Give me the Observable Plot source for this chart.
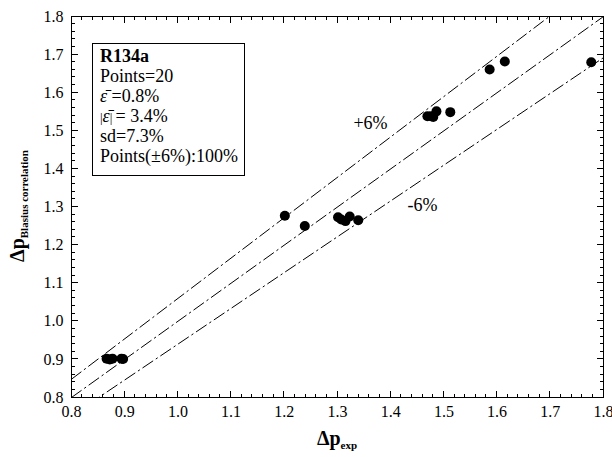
<!DOCTYPE html>
<html><head><meta charset="utf-8">
<script src="https://cdn.jsdelivr.net/npm/d3@7"></script>
<script src="https://cdn.jsdelivr.net/npm/@observablehq/plot@0.6"></script>
<style>body{margin:0;background:#fff} svg{display:block}</style>
</head><body><div id="chart"></div>
<script>
// measured pressure drop vs Blasius correlation (R134a)
const dpExp      = [0.866, 0.872, 0.877, 0.894, 0.897, 1.201, 1.2385, 1.301, 1.307, 1.315, 1.323, 1.339, 1.469, 1.476, 1.480, 1.486, 1.512, 1.586, 1.6145, 1.777];
const dpBlasius  = [0.902, 0.900, 0.902, 0.902, 0.901, 1.277, 1.250, 1.273, 1.267, 1.263, 1.275, 1.265, 1.538, 1.538, 1.536, 1.551, 1.549, 1.661, 1.682, 1.680];
const majorTicks = [0.8, 0.9, 1.0, 1.1, 1.2, 1.3, 1.4, 1.5, 1.6, 1.7, 1.8];
const minorTicks = d3.range(0, 51).map(i => +(0.8 + i * 0.02).toFixed(2));
const bandFactors = [1.06, 1.0, 0.94];
const bandLabels = ["+6%", "-6%"];
const bandLabelX = [1.362, 1.46];
const bandLabelY = [1.519, 1.304];
const legendLines = ["R134a", "Points=20", "=0.8%", "= 3.4%", "sd=7.3%", "Points(\u00b16%):100%"];

const FONT = "'Liberation Serif', 'Times New Roman', Times, serif";
const domain = [0.8, 1.8];
const W = 612, H = 457, ML = 71, MR = 9, MT = 16, MB = 60;

const lineData = bandFactors.flatMap((f, i) => domain.map(x => ({x, y: x * f, k: i})));
const points = dpExp.map((x, i) => ({x, y: dpBlasius[i]}));
const labels = bandLabels.map((t, i) => ({t, x: bandLabelX[i], y: bandLabelY[i]}));

const plot = Plot.plot({
  width: W, height: H,
  marginLeft: ML, marginRight: MR, marginTop: MT, marginBottom: MB,
  style: {fontFamily: FONT, fontSize: "16px", color: "#000", background: "#fff"},
  x: {domain, label: null},
  y: {domain, label: null},
  marks: [
    Plot.line(lineData, {x: "x", y: "y", z: "k", stroke: "#000", strokeWidth: 1, strokeDasharray: "12,4,1.5,4", clip: true}),
    Plot.dot(points, {x: "x", y: "y", r: 5, fill: "#000", stroke: "none"}),
    Plot.text(labels, {x: "x", y: "y", text: "t", fontSize: 18, fill: "#000", fontFamily: FONT}),
    Plot.frame({stroke: "#000", strokeWidth: 1}),
    Plot.axisX(majorTicks, {anchor: "bottom", tickSize: 0, tickPadding: 8, tickFormat: d3.format(".1f"), fontSize: 16, fontFamily: FONT}),
    Plot.axisY(majorTicks, {anchor: "left", tickSize: 0, tickPadding: 8, tickFormat: d3.format(".1f"), fontSize: 16, fontFamily: FONT})
  ]
});
document.getElementById("chart").appendChild(plot);

const svg = d3.select(plot);
const sx = plot.scale("x"), sy = plot.scale("y");
const [x0, x1] = sx.range, [y0, y1] = sy.range; // y0 bottom, y1 top
// inward ticks on all four sides using Plot's scales
const tg = svg.append("g").attr("stroke", "#000").attr("stroke-width", 1).attr("shape-rendering", "crispEdges");
[[minorTicks, 3.5], [majorTicks, 6.5]].forEach(([ticks, len]) => {
  ticks.forEach(v => {
    const px = sx.apply(v), py = sy.apply(v);
    tg.append("line").attr("x1", px).attr("x2", px).attr("y1", y0).attr("y2", y0 - len);
    tg.append("line").attr("x1", px).attr("x2", px).attr("y1", y1).attr("y2", y1 + len);
    tg.append("line").attr("y1", py).attr("y2", py).attr("x1", x0).attr("x2", x0 + len);
    tg.append("line").attr("y1", py).attr("y2", py).attr("x1", x1).attr("x2", x1 - len);
  });
});

// Legend box
const lg = svg.append("g").attr("font-family", FONT).attr("fill", "#000").attr("text-anchor", "start");
lg.append("rect").attr("x", 92.5).attr("y", 43.5).attr("width", 152).attr("height", 132)
  .attr("fill", "#fff").attr("stroke", "#000").attr("stroke-width", 1);
legendLines.forEach((s, i) => {
  const t = lg.append("text").attr("x", 100).attr("y", 62 + i * 20).attr("font-size", 18)
    .attr("text-anchor", "start").attr("font-family", FONT);
  if (i === 0) { t.attr("font-weight", "bold").text(s); }
  else if (i === 2) {
    t.append("tspan").attr("font-style", "italic").text("\u03b5\u0304");
    t.append("tspan").text(" " + s);
  } else if (i === 3) {
    t.append("tspan").attr("font-size", 13).text("|");
    t.append("tspan").attr("font-style", "italic").text("\u03b5\u0304");
    t.append("tspan").attr("font-size", 13).text("| ");
    t.append("tspan").text(s);
  } else { t.text(s); }
});

// Axis titles
const xt = svg.append("text").attr("x", 337).attr("y", 445).attr("text-anchor", "middle")
  .attr("font-family", FONT).attr("font-weight", "bold").attr("font-size", 20);
xt.append("tspan").text("\u0394p");
xt.append("tspan").attr("font-size", 11).attr("dy", 4).text("exp");

const yt = svg.append("text").attr("transform", "translate(24,206) rotate(-90)").attr("text-anchor", "middle")
  .attr("font-family", FONT).attr("font-weight", "bold").attr("font-size", 20);
yt.append("tspan").text("\u0394p");
yt.append("tspan").attr("font-size", 11).attr("dy", 4).text("Blasius correlation");
</script>
</body></html>
